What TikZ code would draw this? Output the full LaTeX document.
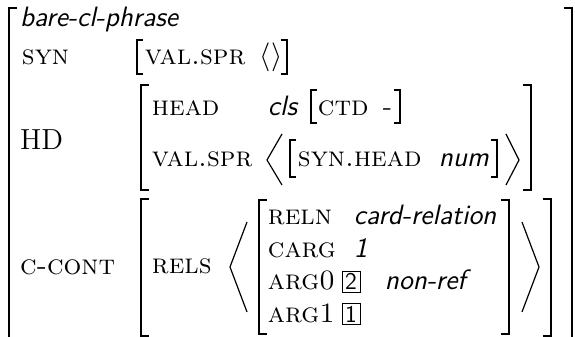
\documentclass[tikz,border=0pt]{standalone}
\usepackage{fontspec}
\begin{document}
\begin{tikzpicture}[x=0.5pt,y=-0.5pt,
  every node/.style={inner sep=0pt, outer sep=0pt, anchor=base west},
  feat/.style={font=\fontsize{14}{16}\selectfont\scshape},
  val/.style={font=\fontsize{14}{16}\selectfont\sffamily\itshape},
  plain/.style={font=\fontsize{14}{16}\selectfont},
  bigcaps/.style={font=\fontsize{14.5}{17}\selectfont},
  tagbox/.style={draw, line width=0.4pt, inner xsep=1.6pt, inner ysep=1.2pt,
    font=\fontsize{12}{14}\selectfont\sffamily},
  brk/.style={line width=0.75pt},
  outerbrk/.style={line width=1pt},
  ang/.style={line width=0.6pt}
]
\useasboundingbox (0,0) rectangle (575,337);

% outer matrix
\draw[outerbrk] (17,8) -- (9,8) -- (9,350);
\draw[outerbrk] (564,8) -- (572,8) -- (572,350);

\node[val]  (type) at (20,26) {bare-cl-phrase};

% SYN
\node[feat] (syn) at (22,64) {syn};
\draw[brk] (143,40) -- (137,40) -- (137,74) -- (143,74);
\node[feat] (synval) at (145,64) {val.spr};
\node[plain] (synlist) at (260,64) {$\langle\rangle$};
\draw[brk] (281,40) -- (287,40) -- (287,74) -- (281,74);

% HD
\node[bigcaps] (hd) at (20,149) {HD};
\draw[brk] (149,85) -- (141,85) -- (141,190) -- (149,190);
\draw[brk] (523,85) -- (531,85) -- (531,190) -- (523,190);
\node[feat] (head) at (152,115) {head};
\node[val]  (cls) at (268,115) {cls};
\draw[brk] (317,90) -- (311,90) -- (311,123) -- (317,123);
\node[feat] (ctd) at (318,115) {ctd};
\node[plain] (ctdval) at (383,115) {-};
\draw[brk] (394,90) -- (400,90) -- (400,123) -- (394,123);
\node[feat] (valspr) at (152,167) {val.spr};
\draw[ang] (282,134) -- (267,160) -- (282,185);
\draw[brk] (296,140) -- (290,140) -- (290,177) -- (296,177);
\node[feat] (synhead) at (298,167) {syn.head};
\node[val]  (num) at (439,167) {num};
\draw[brk] (491,140) -- (497,140) -- (497,177) -- (491,177);
\draw[ang] (506,134) -- (519,160) -- (506,185);

% C-CONT
\node[feat] (ccont) at (20,275) {c-cont};
\draw[brk] (149,199) -- (141,199) -- (141,336) -- (149,336);
\draw[brk] (543,199) -- (551,199) -- (551,336) -- (543,336);
\node[feat] (rels) at (152,273) {rels};
\draw[ang] (247,222) -- (230,267) -- (247,312);
\draw[brk] (267,200) -- (259,200) -- (259,334) -- (267,334);
\node[feat] (reln) at (268,225) {reln};
\node[val]  (relnval) at (354,225) {card-relation};
\node[feat] (carg) at (268,257.5) {carg};
\node[val]  (cargval) at (354,257.5) {1};
\node[feat] (arg0) at (268,290) {arg0};
\node[tagbox] (tagtwo) at (342,290) {2};
\node[val]  (nonref) at (385,290) {non-ref};
\node[feat] (arg1) at (268,322.5) {arg1};
\node[tagbox] (tagone) at (342,322.5) {1};
\draw[brk] (501,200) -- (509,200) -- (509,334) -- (501,334);
\draw[ang] (522,222) -- (539,267) -- (522,312);
\end{tikzpicture}
\end{document}
